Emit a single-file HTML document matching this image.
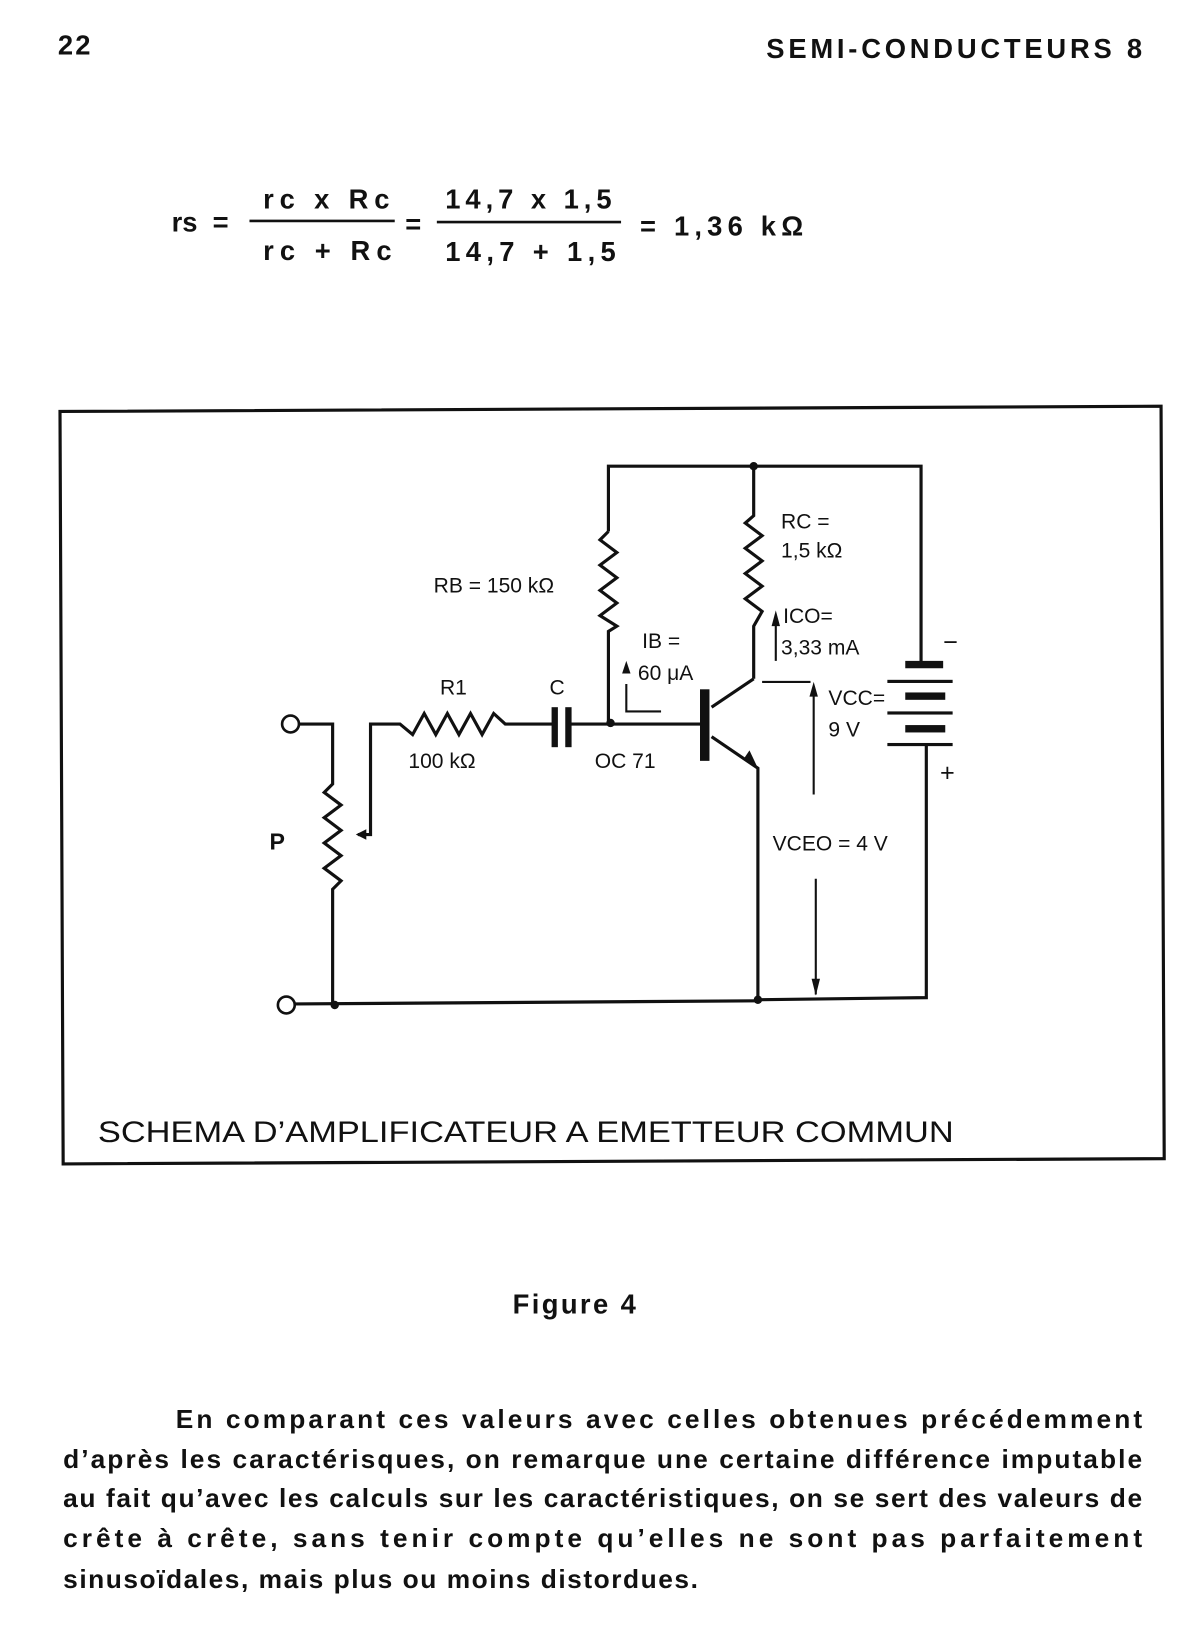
<!DOCTYPE html>
<html><head><meta charset="utf-8"><style>
html,body{margin:0;padding:0;background:#fff}
svg{display:block}
text{font-family:"Liberation Sans",sans-serif;fill:#111}
.c{font-family:"Liberation Sans Narrow","Liberation Sans",sans-serif;font-weight:bold}
</style></head><body>
<svg width="1200" height="1648" viewBox="0 0 1140 1566" preserveAspectRatio="none" xmlns="http://www.w3.org/2000/svg">
<rect width="1140" height="1566" fill="#fff"/>
<g class="c" font-size="26">
<text x="55" y="52" class="c" letter-spacing="2">22</text>
<text x="728" y="55" class="c" textLength="357" lengthAdjust="spacing">SEMI-CONDUCTEURS 8</text>
<text x="163" y="220" class="c">rs&#160;&#160;=</text>
<text x="250" y="198" class="c" textLength="120" lengthAdjust="spacing">rc x Rc</text>
<text x="250" y="247" class="c" textLength="122" lengthAdjust="spacing">rc + Rc</text>
<text x="385" y="222" class="c">=</text>
<text x="423" y="198" class="c" textLength="158" lengthAdjust="spacing">14,7 x 1,5</text>
<text x="423" y="248" class="c" textLength="162" lengthAdjust="spacing">14,7 + 1,5</text>
<text x="608" y="224" class="c" textLength="155" lengthAdjust="spacing">=  1,36 kΩ</text>
</g>
<line x1="237" y1="210" x2="375" y2="210" stroke="#111" stroke-width="2.5"/>
<line x1="415" y1="211" x2="590" y2="211" stroke="#111" stroke-width="2.5"/>

<polygon points="57,391 1103,386 1106,1101 60,1106" fill="none" stroke="#111" stroke-width="3"/>

<g fill="none" stroke="#111" stroke-width="3">
<polyline points="578,505 578,443 875,443 875,630"/>
<polyline points="578,505 570,513 586,525 570,537 586,549 570,561 586,573 570,585 586,595 578,600 578,687"/>
<polyline points="716,443 716,490 708,497 724,509 708,521 724,533 708,545 724,557 708,569 724,581 716,595 716,645"/>
<polyline points="880,708 880,948 720,950"/>
<line x1="280" y1="954" x2="720" y2="951"/>
<polyline points="284,688 316,688 316,745 308,753 324,765 308,777 324,789 308,801 324,813 308,825 324,837 316,845 316,954"/>
<polyline points="340,793 352,793 352,688 380,688 392,698 403,678 414,698 425,678 436,698 447,678 458,698 469,678 480,688 525,688"/>
<line x1="541" y1="688" x2="665" y2="688"/>
<polyline points="676,672 716,645"/>
<polyline points="676,700 720,730 720,951"/>
<polyline points="595,650 595,676 628,676" stroke-width="2"/>
<line x1="737" y1="628" x2="737" y2="585" stroke-width="2"/>
<line x1="724" y1="648" x2="770" y2="648" stroke-width="2"/>
<line x1="773" y1="652" x2="773" y2="755" stroke-width="2"/>
<line x1="775" y1="835" x2="775" y2="945" stroke-width="2"/>
<circle cx="276" cy="688" r="8" stroke-width="2.5"/>
<circle cx="272" cy="955" r="8" stroke-width="2.5"/>
</g>
<rect x="524" y="672" width="6" height="38" fill="#111"/>
<rect x="537" y="672" width="6" height="38" fill="#111"/>
<rect x="665" y="655" width="9" height="68" fill="#111"/>
<g fill="#111">
<rect x="860" y="628" width="36" height="7"/>
<rect x="843" y="646" width="62" height="3"/>
<rect x="860" y="658" width="38" height="7"/>
<rect x="843" y="676" width="62" height="3"/>
<rect x="860" y="689" width="38" height="7"/>
<rect x="843" y="706" width="62" height="3"/>
<circle cx="716" cy="443" r="4"/><circle cx="580" cy="687" r="4"/>
<circle cx="318" cy="955" r="4"/><circle cx="720" cy="950" r="4"/>
<polygon points="338,793 348,788 348,798"/>
<polygon points="706,722 720,730 712,713"/>
<polygon points="591,640 599,640 595,628"/>
<polygon points="733,595 741,595 737,580"/>
<polygon points="769,662 777,662 773,648"/>
<polygon points="771,930 779,930 775,946"/>
</g>
<g font-size="20">
<text x="412" y="563">RB = 150 kΩ</text>
<text x="742" y="502">RC =</text>
<text x="742" y="530">1,5 kΩ</text>
<text x="744" y="592">ICO=</text>
<text x="742" y="622">3,33 mA</text>
<text x="610" y="616">IB =</text>
<text x="606" y="646">60 μA</text>
<text x="418" y="660">R1</text>
<text x="522" y="660">C</text>
<text x="388" y="730">100 kΩ</text>
<text x="565" y="730">OC 71</text>
<text x="787" y="670">VCC=</text>
<text x="787" y="700">9 V</text>
<text x="896" y="618" font-size="24">−</text>
<text x="893" y="742" font-size="24">+</text>
<text x="734" y="808">VCEO = 4 V</text>
<text x="256" y="807" font-weight="bold" font-size="22">P</text>
</g>
<text x="93" y="1085" font-size="28" textLength="813" lengthAdjust="spacingAndGlyphs">SCHEMA D’AMPLIFICATEUR A EMETTEUR COMMUN</text>
<text x="487" y="1248" class="c" font-size="26" textLength="117" lengthAdjust="spacing">Figure 4</text>
<g class="c" font-size="25">
<text x="167" y="1357" textLength="918" lengthAdjust="spacing">En comparant ces valeurs avec celles obtenues précédemment</text>
<text x="60" y="1395" textLength="1025" lengthAdjust="spacing">d’après les caractérisques, on remarque une certaine différence imputable</text>
<text x="60" y="1432" textLength="1025" lengthAdjust="spacing">au fait qu’avec les calculs sur les caractéristiques, on se sert des valeurs de</text>
<text x="60" y="1470" textLength="1025" lengthAdjust="spacing">crête à crête, sans tenir compte qu’elles ne sont pas parfaitement</text>
<text x="60" y="1509" textLength="603" lengthAdjust="spacing">sinusoïdales, mais plus ou moins distordues.</text>
</g>
</svg>
</body></html>
